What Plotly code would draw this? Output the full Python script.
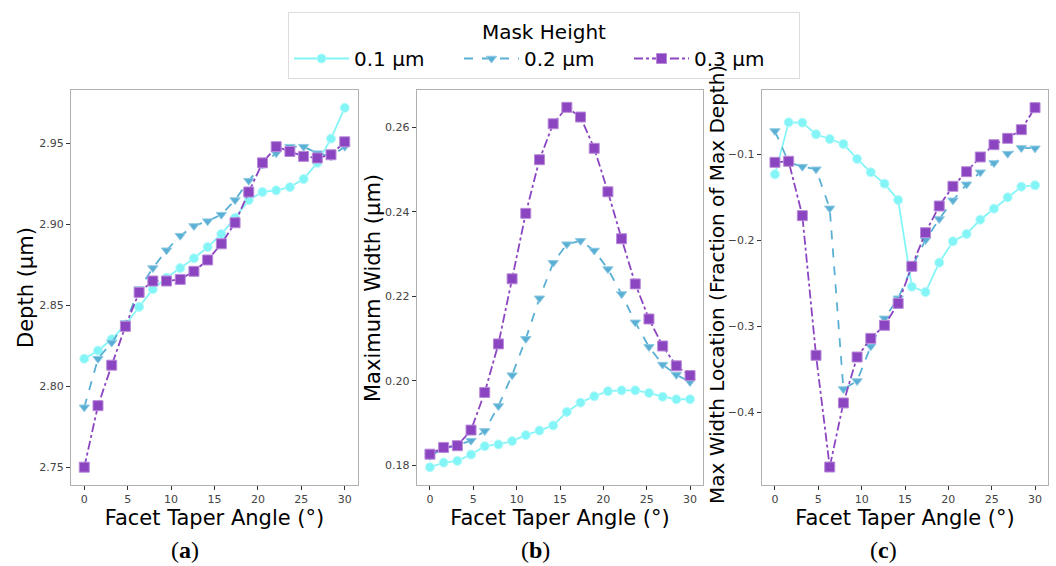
import plotly.graph_objects as go

angles = [0, 1.579, 3.158, 4.737, 6.316, 7.895, 9.474, 11.053, 12.632, 14.211,
          15.789, 17.368, 18.947, 20.526, 22.105, 23.684, 25.263, 26.842, 28.421, 30]

depth_01 = [2.817, 2.822, 2.829, 2.838, 2.849, 2.860, 2.867, 2.873, 2.879, 2.886,
            2.894, 2.904, 2.915, 2.920, 2.921, 2.923, 2.928, 2.938, 2.953, 2.972]
depth_02 = [2.787, 2.817, 2.827, 2.839, 2.860, 2.873, 2.884, 2.893, 2.899, 2.902,
            2.906, 2.915, 2.927, 2.937, 2.944, 2.948, 2.948, 2.944, 2.942, 2.948]
depth_03 = [2.750, 2.788, 2.813, 2.837, 2.858, 2.865, 2.865, 2.866, 2.871, 2.878,
            2.888, 2.901, 2.920, 2.938, 2.948, 2.945, 2.942, 2.941, 2.943, 2.951]

width_01 = [0.1795, 0.1806, 0.1810, 0.1825, 0.1845, 0.1849, 0.1857, 0.1871, 0.1882, 0.1894,
            0.1926, 0.1948, 0.1963, 0.1975, 0.1977, 0.1977, 0.1971, 0.1962, 0.1956, 0.1956]
width_02 = [0.1822, 0.1839, 0.1847, 0.1858, 0.1881, 0.1940, 0.2013, 0.2099, 0.2195, 0.2279,
            0.2323, 0.2331, 0.2308, 0.2264, 0.2205, 0.2138, 0.2080, 0.2038, 0.2014, 0.1997]
width_03 = [0.1826, 0.1842, 0.1846, 0.1883, 0.1972, 0.2087, 0.2241, 0.2396, 0.2523, 0.2608,
            0.2647, 0.2624, 0.2550, 0.2447, 0.2336, 0.2229, 0.2146, 0.2082, 0.2035, 0.2012]

loc_01 = [-0.1233, -0.0628, -0.0632, -0.0767, -0.0822, -0.0880, -0.1054, -0.1209, -0.1341, -0.1531,
          -0.2539, -0.2601, -0.2260, -0.2012, -0.1926, -0.1760, -0.1632, -0.1500, -0.1376, -0.1360]
loc_02 = [-0.0729, -0.1093, -0.1143, -0.1174, -0.1628, -0.3729, -0.3636, -0.3233, -0.2907, -0.2674,
          -0.2314, -0.1996, -0.1752, -0.1535, -0.1349, -0.1209, -0.1101, -0.0992, -0.0926, -0.0930]
loc_03 = [-0.1093, -0.1081, -0.1713, -0.3337, -0.4636, -0.3891, -0.3357, -0.3140, -0.2988, -0.2733,
          -0.2302, -0.1911, -0.1601, -0.1372, -0.1202, -0.1031, -0.0888, -0.0814, -0.0713, -0.0457]

series_names = ["0.1 µm", "0.2 µm", "0.3 µm"]
colors = ["#84f5f7", "#5ab0d4", "#8b45c1"]
edge_colors = ["#b5fafb", "#8fcae3", "#b98ad9"]
symbols = ["circle", "triangle-down", "square"]
dashes = ["solid", "dash", "dashdot"]
msizes = [9, 9, 10]

panels = [
    (depth_01, depth_02, depth_03),
    (width_01, width_02, width_03),
    (loc_01, loc_02, loc_03),
]
y_titles = ["Depth (µm)", "Maximum Width (µm)", "Max Width Location (Fraction of Max Depth)"]
y_ranges = [[2.739, 2.983], [0.1753, 0.2688], [-0.4845, -0.0252]]
y_ticks = [
    [2.75, 2.80, 2.85, 2.90, 2.95],
    [0.18, 0.20, 0.22, 0.24, 0.26],
    [-0.4, -0.3, -0.2, -0.1],
]
y_ticktext = [
    ["2.75", "2.80", "2.85", "2.90", "2.95"],
    ["0.18", "0.20", "0.22", "0.24", "0.26"],
    ["\u22120.4", "\u22120.3", "\u22120.2", "\u22120.1"],
]
x_ticks = [0, 5, 10, 15, 20, 25, 30]
panel_labels = ["(<b>a</b>)", "(<b>b</b>)", "(<b>c</b>)"]

W, H = 1056, 566
x_doms = [[71 / W, 358 / W], [416.7 / W, 703.3 / W], [761.7 / W, 1048.3 / W]]
y_dom = [1 - 485 / H, 1 - 90 / H]

fig = go.Figure()
for p, data in enumerate(panels):
    xa = "x" if p == 0 else f"x{p+1}"
    ya = "y" if p == 0 else f"y{p+1}"
    for s in range(3):
        fig.add_trace(go.Scatter(
            x=angles, y=data[s], name=series_names[s], mode="lines+markers",
            line=dict(color=colors[s], width=1.8, dash=dashes[s]),
            marker=dict(symbol=symbols[s], size=msizes[s], color=colors[s],
                        line=dict(color=edge_colors[s], width=1)),
            xaxis=xa, yaxis=ya, showlegend=(p == 0),
        ))

axis_common = dict(
    showline=True, linecolor="#b0b0b0", linewidth=1, mirror=True,
    showgrid=False, zeroline=False, ticks="outside", ticklen=4, tickwidth=1,
    tickcolor="#333333", tickfont=dict(family="DejaVu Sans", size=11, color="#444444"),
)

layout = dict(
    width=W, height=H, margin=dict(l=0, r=0, t=0, b=0),
    plot_bgcolor="white", paper_bgcolor="white",
    font=dict(family="DejaVu Sans", color="black"),
    legend=dict(
        orientation="h", x=544 / W, xanchor="center", y=1 - 12 / H, yanchor="top",
        bgcolor="white", bordercolor="#dddddd", borderwidth=1,
        font=dict(family="DejaVu Sans", size=20, color="black"),
        title=dict(text="Mask Height", side="top center",
                   font=dict(family="DejaVu Sans", size=20, color="black")),
        entrywidth=100, entrywidthmode="pixels", itemwidth=55,
    ),
)
for p in range(3):
    suffix = "" if p == 0 else str(p + 1)
    layout["xaxis" + suffix] = dict(
        axis_common, domain=x_doms[p], range=[-1.53, 31.53],
        tickvals=x_ticks, ticktext=[str(v) for v in x_ticks],
        anchor="y" + suffix,
        title=dict(text="Facet Taper Angle (°)", standoff=1,
                   font=dict(family="DejaVu Sans", size=21, color="black")),
    )
    layout["yaxis" + suffix] = dict(
        axis_common, domain=y_dom, range=y_ranges[p],
        tickvals=y_ticks[p], ticktext=y_ticktext[p],
        anchor="x" + suffix,
    )
fig.update_layout(**layout)

# y-axis titles placed as rotated annotations
ytitle_x = [26, 373, 717]
ytitle_y = [288, 288, 285]
ytitle_size = [21, 21, 20]
for p in range(3):
    fig.add_annotation(
        text=y_titles[p], xref="paper", yref="paper",
        x=ytitle_x[p] / W, y=1 - ytitle_y[p] / H, xanchor="center", yanchor="middle",
        textangle=-90, showarrow=False,
        font=dict(family="DejaVu Sans", size=ytitle_size[p], color="black"),
    )

label_x = [185, 535, 883]
for p in range(3):
    fig.add_annotation(
        text=panel_labels[p], xref="paper", yref="paper",
        x=label_x[p] / W, y=1 - 550 / H, xanchor="center", yanchor="middle",
        showarrow=False, font=dict(family="Liberation Serif", size=24, color="black"),
    )

fig.write_html("out.html")
